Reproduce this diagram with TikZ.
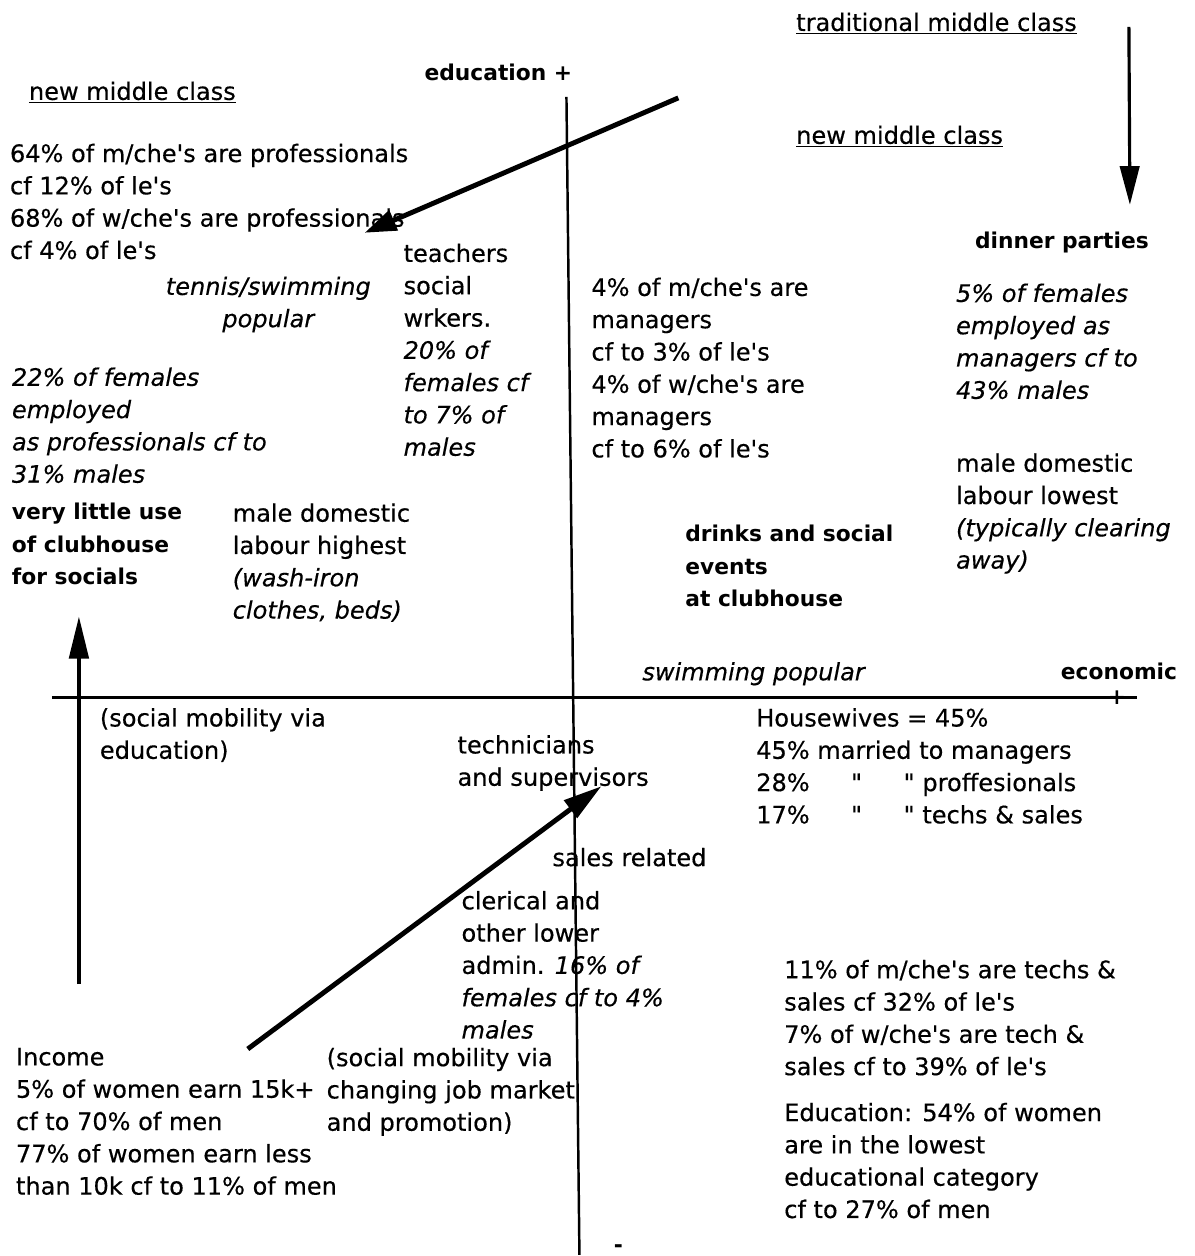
\documentclass[tikz,border=0pt]{standalone}
\usepackage{fontspec}
\setmainfont{DejaVu Sans}[UprightFeatures={FakeBold=0.4},ItalicFeatures={FakeBold=0.4}]
\usetikzlibrary{arrows.meta}
\newcommand\regf{\fontsize{13.7pt}{18.4pt}\selectfont}
\newcommand\bldf{\fontsize{12.4pt}{18.4pt}\selectfont\bfseries}
\newcommand\ap{\textquotesingle}
\newcommand\qq{\textquotedbl}
\begin{document}
\begin{tikzpicture}[x=0.02cm,y=-0.02cm,
  lbl/.style={anchor=north west, align=left, inner sep=0pt, outer sep=0pt, yshift=10.3pt,
              execute at begin node=\rule{0pt}{12pt}, font=\regf},
  bld/.style={lbl, font=\bldf},
  axisline/.style={line width=1.4pt},
  diagarrow/.style={line width=2.8pt, -{Triangle[length=22pt,width=12pt]}},
  vertarrow/.style={line width=1.8pt, -{Triangle[length=22pt,width=11pt]}}
]
\path[fill=white] (0,0) rectangle (1196,1256);

% axes
\coordinate (vtop) at (567,97);
\coordinate (vbot) at (580,1256);
\coordinate (hleft) at (52,698);
\coordinate (hright) at (1138,698);
\draw[axisline] (vtop) -- (vbot);
\draw[axisline] (hleft) -- (hright);
\node[inner sep=0pt, font=\bldf] (plus) at (1118,698) {+};
\node[inner sep=0pt, font=\bldf] (minus) at (619,1250) {-};

% top area
\node[lbl] (tmc) at (797,28) {\underline{traditional middle class}};
\node[lbl] (nmcR) at (797,141) {\underline{new middle class}};
\node[lbl] (nmcL) at (29,97) {\underline{new middle class}};
\node[bld] (edu) at (425,78) {education +};

\node[lbl] (prof) at (10,162) {64\% of m/che\ap s are professionals\\cf 12\% of le\ap s\\68\% of w/che\ap s are professionals\\cf 4\% of le\ap s};

\node[lbl, align=center] (tennis) at (166,295) {\itshape tennis/swimming\\\itshape popular};

\node[lbl] (teach) at (404,262) {teachers\\social\\wrkers.\\{\itshape 20\% of}\\{\itshape females cf}\\{\itshape to 7\% of}\\{\itshape males}};

\node[lbl] (fem22) at (12,386) {\itshape 22\% of females\\\itshape employed\\\itshape as professionals cf to\\\itshape 31\% males};

\node[bld] (clubL) at (12,522) {very little use\\of clubhouse\\for socials};

\node[lbl] (mdlH) at (233,522) {male domestic\\labour highest\\{\itshape (wash-iron}\\{\itshape clothes, beds)}};

\node[lbl] (mgr) at (592,296) {4\% of m/che\ap s are\\managers\\cf to 3\% of le\ap s\\4\% of w/che\ap s are\\managers\\cf to 6\% of le\ap s};

\node[bld] (dinner) at (976,246) {dinner parties};

\node[lbl] (fem5) at (957,302) {\itshape 5\% of females\\\itshape employed as\\\itshape managers cf to\\\itshape 43\% males};

\node[lbl] (mdlL) at (957,472) {male domestic\\labour lowest\\{\itshape (typically clearing}\\{\itshape away)}};

\node[bld] (drinks) at (686,544) {drinks and social\\events\\at clubhouse};

\node[lbl] (swim) at (643,678) {\itshape swimming popular};
\node[bld] (econ) at (1062,677) {economic};

% lower area
\node[lbl] (smEdu) at (100,727) {(social mobility via\\education)};

\node[lbl] (tech) at (458,754) {technicians\\and supervisors};

\node[lbl] (house) at (757,727) {Housewives = 45\%\\45\% married to managers\\\makebox[54pt][l]{28\%}\makebox[30pt][l]{\qq}\qq{} proffesionals\\\makebox[54pt][l]{17\%}\makebox[30pt][l]{\qq}\qq{} techs \& sales};

\node[lbl] (sales) at (553,864) {sales related};

\node[lbl] (cler) at (462,910) {clerical and\\other lower\\admin. {\itshape 16\% of}\\{\itshape females cf to 4\%}\\{\itshape males}};

\node[lbl] (techs11) at (785,979) {11\% of m/che\ap s are techs \&\\sales cf 32\% of le\ap s\\7\% of w/che\ap s are tech \&\\sales cf to 39\% of le\ap s};

\node[lbl] (educ54) at (785,1122) {Education: 54\% of women\\are in the lowest\\educational category\\cf to 27\% of men};

\node[lbl] (smJob) at (327,1067) {(social mobility via\\changing job market\\and promotion)};

\node[lbl] (income) at (16,1067) {Income\\5\% of women earn 15k+\\cf to 70\% of men\\77\% of women earn less\\than 10k cf to 11\% of men};

% arrows
\coordinate (aRs) at (1130,27);
\coordinate (aRe) at (1131,205);
\draw[vertarrow] (aRs) -- (aRe);

\coordinate (aLs) at (79,985);
\coordinate (aLe) at (79,617);
\draw[vertarrow, line width=2.2pt, -{Triangle[length=24pt,width=11pt]}] (aLs) -- (aLe);

\coordinate (aUs) at (679,98);
\coordinate (aUe) at (365,233);
\draw[diagarrow, -{Triangle[length=18pt,width=12pt]}] (aUs) -- (aUe);

\coordinate (aMs) at (248,1050);
\coordinate (aMe) at (602,787);
\draw[diagarrow] (aMs) -- (aMe);
\end{tikzpicture}
\end{document}
